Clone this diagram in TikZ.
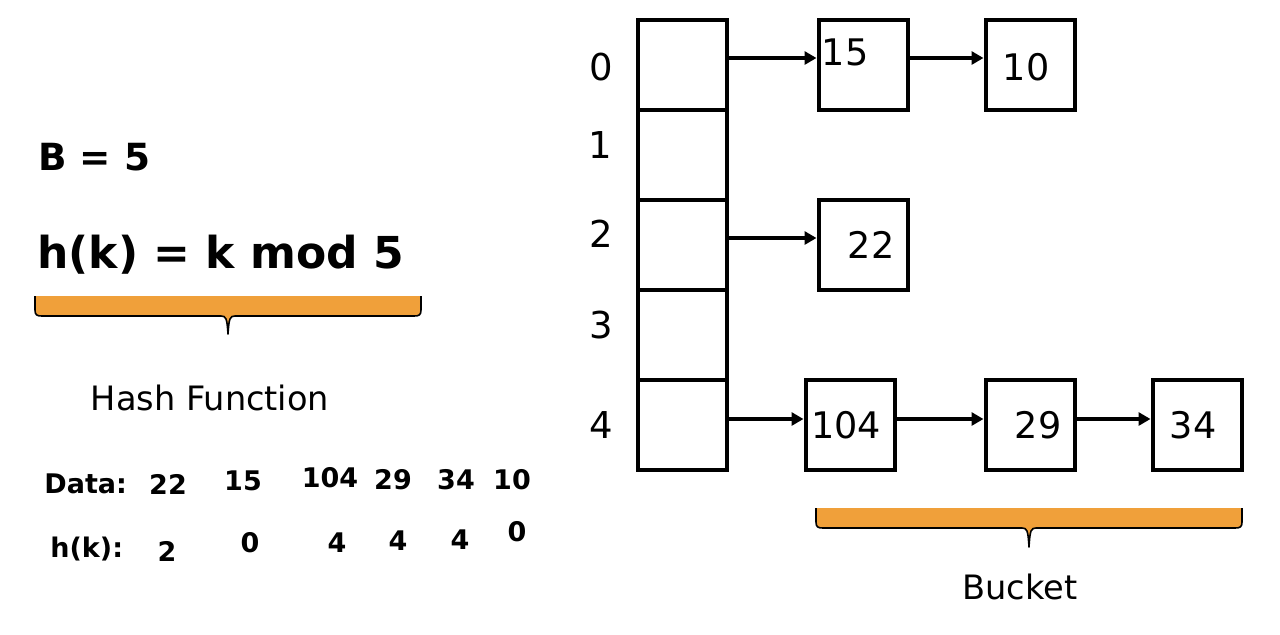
\documentclass[tikz,border=0pt]{standalone}
\usepackage{fontspec}
\setmainfont{DejaVu Sans}
\usetikzlibrary{arrows.meta}
\definecolor{braceor}{RGB}{240,160,58}
\begin{document}
\begin{tikzpicture}[x=0.5pt,y=-0.5pt,
  cell/.style={draw,line width=2pt,minimum width=44.5pt,minimum height=45pt,inner sep=0pt},
  idx/.style={font=\fontsize{18.5}{20}\selectfont,inner sep=0pt},
  num/.style={font=\fontsize{18.3}{20}\selectfont,inner sep=0pt},
  arr/.style={line width=1.75pt,-{Triangle[length=6pt,width=6.5pt]}},
  hand/.style={font=\fontsize{13.5}{15}\selectfont\bfseries,inner sep=0pt},
  bracefill/.style={fill=braceor},
  braceline/.style={line width=0.8pt,line join=round},
  caption/.style={font=\fontsize{16.8}{19}\selectfont,inner sep=0pt}]
\useasboundingbox (0,0) rectangle (1280,634);

% left formulas
\node[anchor=west,inner sep=0pt,font=\fontsize{18.7}{20}\selectfont\bfseries] (B) at (38,157) {B = 5};
\node[anchor=west,inner sep=0pt,font=\fontsize{22}{24}\selectfont\bfseries] (hk) at (37,255) {h(k) = k mod 5};

% brace 1
\fill[bracefill] (35,296) -- (35,310) .. controls (35,315) and (37,316) .. (42,316) -- (221,316)
  .. controls (226,316) and (227,318) .. (228,334) .. controls (229,318) and (230,316) .. (235,316)
  -- (414,316) .. controls (419,316) and (421,315) .. (421,310) -- (421,296) -- cycle;
\draw[braceline] (35,296) -- (35,310) .. controls (35,315) and (37,316) .. (42,316) -- (221,316)
  .. controls (226,316) and (227,318) .. (228,334) .. controls (229,318) and (230,316) .. (235,316)
  -- (414,316) .. controls (419,316) and (421,315) .. (421,310) -- (421,296);
\node[caption] (hf) at (210,398) {Hash Function};

% handwritten data
\node[hand,anchor=west] (dl) at (44,484) {Data:};
\node[hand] (d1) at (168,484) {22};
\node[hand] (d2) at (243,481) {15};
\node[hand] (d3) at (330,478) {104};
\node[hand] (d4) at (393,480) {29};
\node[hand] (d5) at (456,480) {34};
\node[hand] (d6) at (512,480) {10};
\node[hand,anchor=west] (hl) at (50,549) {h(k):};
\node[hand] (h1) at (167,551) {2};
\node[hand] (h2) at (250,543) {0};
\node[hand] (h3) at (337,543) {4};
\node[hand] (h4) at (398,541) {4};
\node[hand] (h5) at (460,540) {4};
\node[hand] (h6) at (517,532) {0};

% table
\node[cell] (c0) at (682.5,64.5) {};
\node[cell] (c1) at (682.5,154.5) {};
\node[cell] (c2) at (682.5,244.5) {};
\node[cell] (c3) at (682.5,334.5) {};
\node[cell] (c4) at (682.5,424.5) {};
\node[idx] (i0) at (601,67) {0};
\node[idx] (i1) at (600,145) {1};
\node[idx] (i2) at (601,234) {2};
\node[idx] (i3) at (601,325) {3};
\node[idx] (i4) at (601,425) {4};

% buckets
\node[cell] (b15) at (863,64.5) {};
\node[num] (t15) at (845,52) {15};
\node[cell] (b10) at (1030,64.5) {};
\node[num] (t10) at (1026,67) {10};
\node[cell] (b22) at (863,244.5) {};
\node[num] (t22) at (871,245) {22};
\node[cell] (b104) at (850,424.5) {};
\node[num] (t104) at (846,425) {104};
\node[cell] (b29) at (1030,424.5) {};
\node[num] (t29) at (1038,425) {29};
\node[cell] (b34) at (1197,424.5) {};
\node[num] (t34) at (1193,425) {34};

% arrows
\draw[arr] ([yshift=3.25pt]c0.east) -- ([yshift=3.25pt]b15.west);
\draw[arr] ([yshift=3.25pt]b15.east) -- ([yshift=3.25pt]b10.west);
\draw[arr] ([yshift=3.25pt]c2.east) -- ([yshift=3.25pt]b22.west);
\draw[arr] ([yshift=2.75pt]c4.east) -- ([yshift=2.75pt]b104.west);
\draw[arr] ([yshift=2.75pt]b104.east) -- ([yshift=2.75pt]b29.west);
\draw[arr] ([yshift=2.75pt]b29.east) -- ([yshift=2.75pt]b34.west);

% brace 2
\fill[bracefill] (816,508) -- (816,522) .. controls (816,527) and (818,528) .. (823,528) -- (1022,528)
  .. controls (1027,528) and (1028,530) .. (1029,547) .. controls (1030,530) and (1031,528) .. (1036,528)
  -- (1235,528) .. controls (1240,528) and (1242,527) .. (1242,522) -- (1242,508) -- cycle;
\draw[braceline] (816,508) -- (816,522) .. controls (816,527) and (818,528) .. (823,528) -- (1022,528)
  .. controls (1027,528) and (1028,530) .. (1029,547) .. controls (1030,530) and (1031,528) .. (1036,528)
  -- (1235,528) .. controls (1240,528) and (1242,527) .. (1242,522) -- (1242,508);
\node[caption] (bk) at (1020,587) {Bucket};
\end{tikzpicture}
\end{document}
